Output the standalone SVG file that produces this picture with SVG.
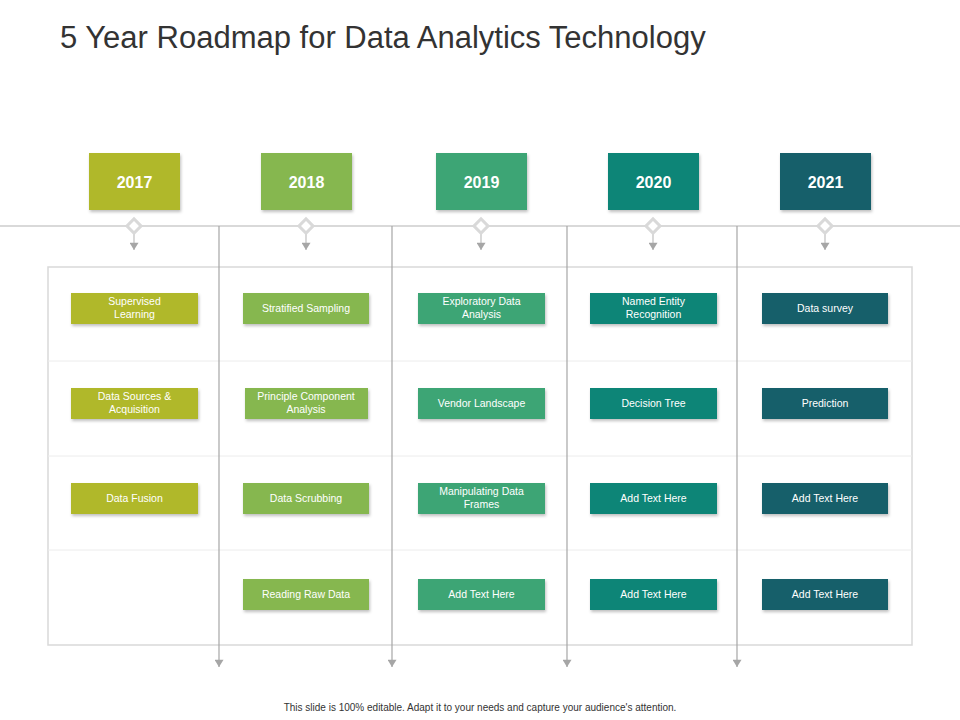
<svg xmlns="http://www.w3.org/2000/svg" width="960" height="720" viewBox="0 0 960 720">
<defs>
<filter id="sh" x="-10%" y="-20%" width="120%" height="160%"><feDropShadow dx="1" dy="2" stdDeviation="1.5" flood-color="#000" flood-opacity="0.25"/></filter>
<marker id="ar" viewBox="0 0 10 10" refX="5" refY="8" markerWidth="8" markerHeight="8" orient="auto-start-reverse" markerUnits="userSpaceOnUse"><path d="M0,0 L10,0 L5,8 Z" transform="rotate(-90 5 5)" fill="#a6a6a6"/></marker>
<marker id="ad" viewBox="0 0 10 10" refX="5" refY="9" markerWidth="9" markerHeight="9" markerUnits="userSpaceOnUse"><path d="M0,1 L10,1 L5,9 Z" fill="#a6a6a6"/></marker>
</defs>
<style>
text{font-family:"Liberation Sans",Arial,sans-serif;fill:#fff;text-anchor:middle}
.yr{font-size:16px;font-weight:bold}
.t{font-size:10.5px}
.c1{fill:#b0b82b}.c2{fill:#86b74f}.c3{fill:#3ea574}.c4{fill:#0d8577}.c5{fill:#125e6b}
.dia{fill:#fff;stroke:#d9d9d9;stroke-width:3}
</style>
<rect width="960" height="720" fill="#fff"/>
<text x="60" y="48" style="font-size:31px;fill:#333;text-anchor:start">5 Year Roadmap for Data Analytics Technology</text>
<g id="grid" fill="none">
<line x1="0" y1="226" x2="960" y2="226" stroke="#d9d9d9" stroke-width="2"/>
<rect x="48" y="267" width="864" height="378" stroke="#d9d9d9" stroke-width="1.5"/>
<line x1="48" y1="361" x2="912" y2="361" stroke="#ececec"/>
<line x1="48" y1="456" x2="912" y2="456" stroke="#ececec"/>
<line x1="48" y1="550" x2="912" y2="550" stroke="#ececec"/>
</g>
<g id="connectors" stroke="#a6a6a6" stroke-width="1.2">
<line x1="219" y1="226" x2="219" y2="667" marker-end="url(#ad)"/>
<line x1="392" y1="226" x2="392" y2="667" marker-end="url(#ad)"/>
<line x1="567" y1="226" x2="567" y2="667" marker-end="url(#ad)"/>
<line x1="737" y1="226" x2="737" y2="667" marker-end="url(#ad)"/>
<line x1="134" y1="234" x2="134" y2="250" stroke="#bfbfbf" marker-end="url(#ad)"/>
<line x1="306" y1="234" x2="306" y2="250" stroke="#bfbfbf" marker-end="url(#ad)"/>
<line x1="481" y1="234" x2="481" y2="250" stroke="#bfbfbf" marker-end="url(#ad)"/>
<line x1="653" y1="234" x2="653" y2="250" stroke="#bfbfbf" marker-end="url(#ad)"/>
<line x1="825" y1="234" x2="825" y2="250" stroke="#bfbfbf" marker-end="url(#ad)"/>
</g>
<g id="diamonds">
<rect class="dia" x="129" y="221" width="10" height="10" transform="rotate(45 134 226)"/>
<rect class="dia" x="301" y="221" width="10" height="10" transform="rotate(45 306 226)"/>
<rect class="dia" x="476" y="221" width="10" height="10" transform="rotate(45 481 226)"/>
<rect class="dia" x="648" y="221" width="10" height="10" transform="rotate(45 653 226)"/>
<rect class="dia" x="820" y="221" width="10" height="10" transform="rotate(45 825 226)"/>
</g>
<g id="y2017"><rect class="c1" x="89" y="153" width="91" height="57" filter="url(#sh)"/><text class="yr" x="134.5" y="188">2017</text></g>
<g id="y2018"><rect class="c2" x="261" y="153" width="91" height="57" filter="url(#sh)"/><text class="yr" x="306.5" y="188">2018</text></g>
<g id="y2019"><rect class="c3" x="436" y="153" width="91" height="57" filter="url(#sh)"/><text class="yr" x="481.5" y="188">2019</text></g>
<g id="y2020"><rect class="c4" x="608" y="153" width="91" height="57" filter="url(#sh)"/><text class="yr" x="653.5" y="188">2020</text></g>
<g id="y2021"><rect class="c5" x="780" y="153" width="91" height="57" filter="url(#sh)"/><text class="yr" x="825.5" y="188">2021</text></g>

<g id="n1a"><rect class="c1" x="71" y="293" width="127" height="31" filter="url(#sh)"/><text class="t" x="134.5" y="305">Supervised</text><text class="t" x="134.5" y="318">Learning</text></g>
<g id="n1b"><rect class="c1" x="71" y="388" width="127" height="31" filter="url(#sh)"/><text class="t" x="134.5" y="400">Data Sources &amp;</text><text class="t" x="134.5" y="413">Acquisition</text></g>
<g id="n1c"><rect class="c1" x="71" y="483" width="127" height="31" filter="url(#sh)"/><text class="t" x="134.5" y="502">Data Fusion</text></g>

<g id="n2a"><rect class="c2" x="243" y="293" width="126" height="31" filter="url(#sh)"/><text class="t" x="306" y="312">Stratified Sampling</text></g>
<g id="n2b"><rect class="c2" x="245" y="388" width="123" height="31" filter="url(#sh)"/><text class="t" x="306" y="400">Principle Component</text><text class="t" x="306" y="413">Analysis</text></g>
<g id="n2c"><rect class="c2" x="243" y="483" width="126" height="31" filter="url(#sh)"/><text class="t" x="306" y="502">Data Scrubbing</text></g>
<g id="n2d"><rect class="c2" x="243" y="579" width="126" height="31" filter="url(#sh)"/><text class="t" x="306" y="598">Reading Raw Data</text></g>

<g id="n3a"><rect class="c3" x="418" y="293" width="127" height="31" filter="url(#sh)"/><text class="t" x="481.5" y="305">Exploratory Data</text><text class="t" x="481.5" y="318">Analysis</text></g>
<g id="n3b"><rect class="c3" x="418" y="388" width="127" height="31" filter="url(#sh)"/><text class="t" x="481.5" y="407">Vendor Landscape</text></g>
<g id="n3c"><rect class="c3" x="418" y="483" width="127" height="31" filter="url(#sh)"/><text class="t" x="481.5" y="495">Manipulating Data</text><text class="t" x="481.5" y="508">Frames</text></g>
<g id="n3d"><rect class="c3" x="418" y="579" width="127" height="31" filter="url(#sh)"/><text class="t" x="481.5" y="598">Add Text Here</text></g>

<g id="n4a"><rect class="c4" x="590" y="293" width="127" height="31" filter="url(#sh)"/><text class="t" x="653.5" y="305">Named Entity</text><text class="t" x="653.5" y="318">Recognition</text></g>
<g id="n4b"><rect class="c4" x="590" y="388" width="127" height="31" filter="url(#sh)"/><text class="t" x="653.5" y="407">Decision Tree</text></g>
<g id="n4c"><rect class="c4" x="590" y="483" width="127" height="31" filter="url(#sh)"/><text class="t" x="653.5" y="502">Add Text Here</text></g>
<g id="n4d"><rect class="c4" x="590" y="579" width="127" height="31" filter="url(#sh)"/><text class="t" x="653.5" y="598">Add Text Here</text></g>

<g id="n5a"><rect class="c5" x="762" y="293" width="126" height="31" filter="url(#sh)"/><text class="t" x="825" y="312">Data survey</text></g>
<g id="n5b"><rect class="c5" x="762" y="388" width="126" height="31" filter="url(#sh)"/><text class="t" x="825" y="407">Prediction</text></g>
<g id="n5c"><rect class="c5" x="762" y="483" width="126" height="31" filter="url(#sh)"/><text class="t" x="825" y="502">Add Text Here</text></g>
<g id="n5d"><rect class="c5" x="762" y="579" width="126" height="31" filter="url(#sh)"/><text class="t" x="825" y="598">Add Text Here</text></g>

<text x="480" y="711" style="font-size:10px;fill:#333">This slide is 100% editable.  Adapt it to your needs and capture your audience's attention.</text>
</svg>
